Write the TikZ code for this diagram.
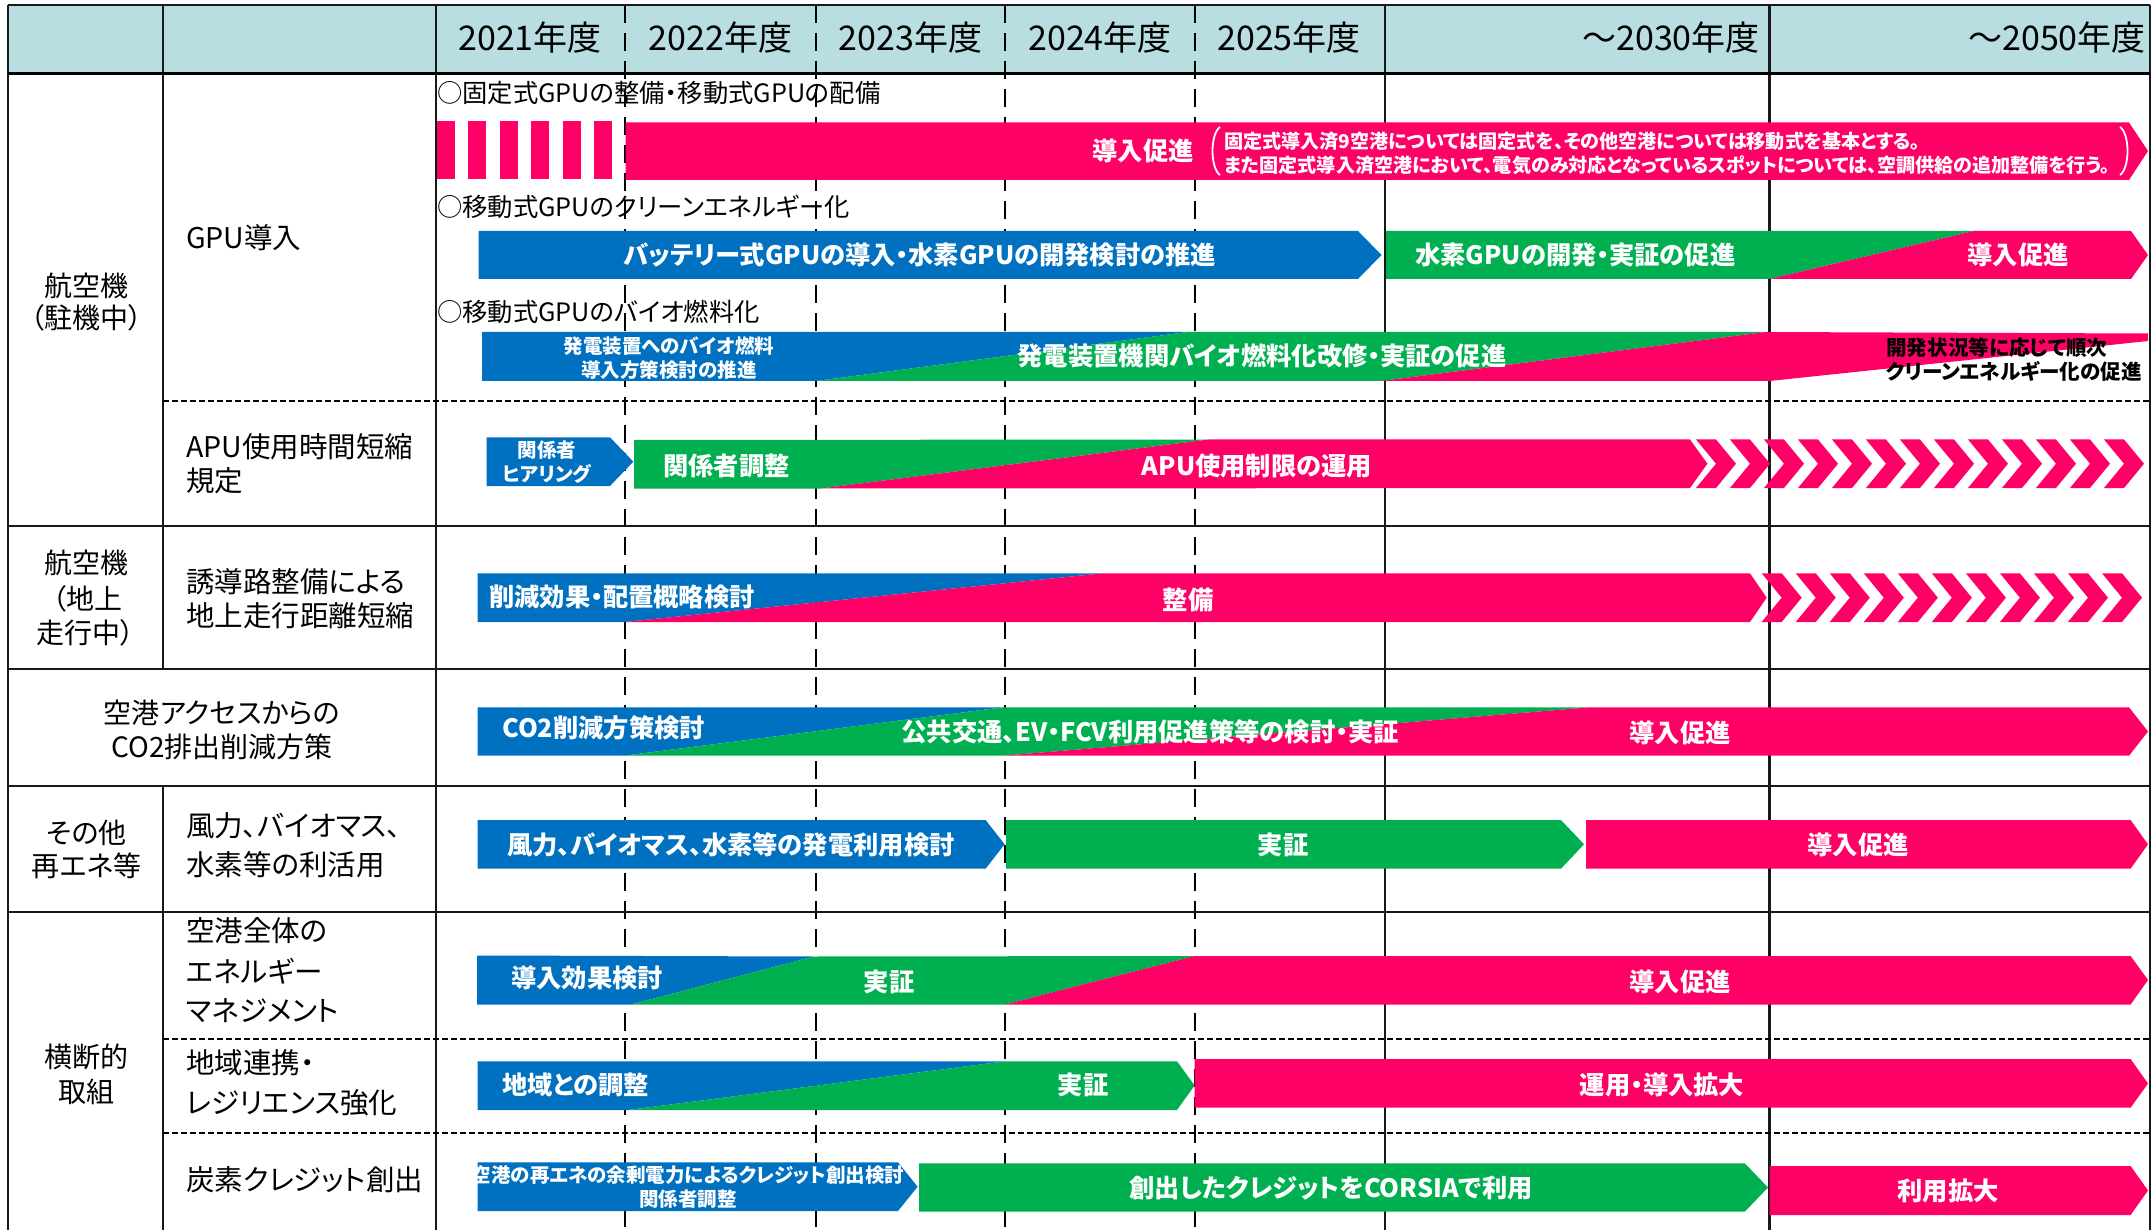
\documentclass[tikz,border=0pt]{standalone}
\usepackage{fontspec}
\setmainfont{Noto Sans CJK JP}[RawFeature=+palt]
\definecolor{pk}{RGB}{255,0,102}
\definecolor{bl}{RGB}{0,112,192}
\definecolor{gr}{RGB}{0,176,80}
\definecolor{hd}{RGB}{184,222,226}
\begin{document}
\begin{tikzpicture}[x=1pt,y=-1pt,
 lw/.style={line width=2.2pt,black!90},
 dv/.style={line width=2pt,black,dash pattern=on 18pt off 10pt},
 dh/.style={line width=2.2pt,black,dash pattern=on 6pt off 3pt},
 hdr/.style={font=\fontsize{34}{38}\selectfont,inner sep=0pt},
 cat/.style={font=\fontsize{28}{33}\selectfont,inner sep=0pt},
 lab/.style={font=\fontsize{28.5}{33}\selectfont,inner sep=0pt,anchor=west},
 note/.style={font=\fontsize{25.3}{30}\selectfont,inner sep=0pt,anchor=west},
 bt/.style={text=white,font=\bfseries\fontsize{25.3}{30}\selectfont,inner sep=0pt},
 st/.style={text=white,font=\bfseries\fontsize{19.5}{24}\selectfont,inner sep=0pt,align=center},
 kt/.style={text=black,font=\bfseries\fontsize{20.6}{24}\selectfont,inner sep=0pt,align=left,anchor=west},
 pt/.style={text=white,font=\bfseries\fontsize{19.1}{23.5}\selectfont,inner sep=0pt,align=left,anchor=west},
]
\useasboundingbox (0,0) rectangle (2156,1230);
% header band
\fill[hd] (8,5) rectangle (2150,74);
% grid
\foreach \x in {625,816,1005,1195} \draw[dv] (\x,5) -- (\x,1232);
\foreach \x in {436,1385,1769.5} \draw[lw] (\x,5) -- (\x,1232);
\draw[lw] (163,5) -- (163,669);
\draw[lw] (163,786) -- (163,1232);
\draw[lw] (8,5) -- (8,1232);
\draw[lw] (2150,5) -- (2150,1232);
\draw[lw] (8,5) -- (2150,5);
\draw[line width=3pt] (8,74) -- (2150,74);
\foreach \y in {526,669,786,912} \draw[lw] (8,\y) -- (2150,\y);
\foreach \y in {401,1038.7,1132.7} \draw[dh] (163,\y) -- (2150,\y);

% header texts
\node[hdr] (h1) at (530,38) {2021年度};
\node[hdr] (h2) at (720.5,38) {2022年度};
\node[hdr] (h3) at (910.5,38) {2023年度};
\node[hdr] (h4) at (1100,38) {2024年度};
\node[hdr] (h5) at (1289,38) {2025年度};
\node[hdr,anchor=east] (h6) at (1760,38) {～2030年度};
\node[hdr,anchor=east] (h7) at (2146,38) {～2050年度};

% category column
\node[cat] (c1a) at (86.5,286) {航空機};
\node[cat] (c1b) at (86.5,318) {（駐機中）};
\node[cat] (c2a) at (86.5,563) {航空機};
\node[cat] (c2b) at (87,599) {（地上};
\node[cat] (c2c) at (85,633) {走行中）};
\node[cat] (c3a) at (222,713) {空港アクセスからの};
\node[cat] (c3b) at (222,747) {CO2排出削減方策};
\node[cat] (c4a) at (86.5,833) {その他};
\node[cat] (c4b) at (86.5,866) {再エネ等};
\node[cat] (c5a) at (86.5,1057) {横断的};
\node[cat] (c5b) at (86.5,1092) {取組};

% item labels
\node[lab] (l1) at (186,238) {GPU導入};
\node[lab] (l2a) at (186,447) {APU使用時間短縮};
\node[lab] (l2b) at (186,481) {規定};
\node[lab] (l3a) at (186,582) {誘導路整備による};
\node[lab] (l3b) at (186,616) {地上走行距離短縮};
\node[lab] (l4a) at (186,826) {風力、バイオマス、};
\node[lab] (l4b) at (186,865) {水素等の利活用};
\node[lab] (l5a) at (186,931) {空港全体の};
\node[lab] (l5b) at (186,971) {エネルギー};
\node[lab] (l5c) at (186,1011) {マネジメント};
\node[lab] (l6a) at (186,1063) {地域連携・};
\node[lab] (l6b) at (186,1103) {レジリエンス強化};
\node[lab] (l7) at (186,1180) {炭素クレジット創出};

% ===== GPU row 1 =====
\node[note] (n1) at (437,93) {○固定式GPUの整備・移動式GPUの配備};
\foreach \a/\b in {437/455,468/486,499.5/517.5,531/549,562.5/580.5,594/612}
  \fill[pk] (\a,121) rectangle (\b,179);
\fill[pk] (625.5,122.5) -- (2129,122.5) -- (2148,151) -- (2129,180) -- (625.5,180) -- cycle;
\node[bt] (t1) at (1143,151) {導入促進};
\draw[white,line width=1.8pt] (1220,127) .. controls (1210,134) and (1210,168) .. (1220,175);
\draw[white,line width=1.8pt] (2120,127) .. controls (2130,134) and (2130,168) .. (2120,175);
\node[pt] (p1) at (1224,141.5) {固定式導入済9空港については固定式を、その他空港については移動式を基本とする。};
\node[pt] (p2) at (1224,165) {また固定式導入済空港において、電気のみ対応となっているスポットについては、空調供給の追加整備を行う。};

% ===== GPU row 2 =====
\node[note] (n2) at (437,207) {○移動式GPUのクリーンエネルギー化};
\fill[bl] (478.5,231) -- (1358,231) -- (1381.5,255) -- (1358,279) -- (478.5,279) -- cycle;
\fill[gr] (1386,231) -- (1974,231) -- (1769.5,279) -- (1386,279) -- cycle;
\fill[pk] (1974,231) -- (2131,231) -- (2148,255) -- (2131,279) -- (1769.5,279) -- cycle;
\node[bt] (t2) at (920,255) {バッテリー式GPUの導入・水素GPUの開発検討の推進};
\node[bt,anchor=west] (t3) at (1415,255) {水素GPUの開発・実証の促進};
\node[bt] (t4) at (2018,255) {導入促進};

% ===== GPU row 3 =====
\node[note] (n3) at (437,312) {○移動式GPUのバイオ燃料化};
\fill[bl] (482,332) -- (1188,332) -- (816,381) -- (482,381) -- cycle;
\fill[gr] (1188,332) -- (1766,332) -- (1381,381) -- (816,381) -- cycle;
\fill[pk] (1766,332) -- (2148,333.5) -- (2148,341) -- (1769.5,381) -- (1381,381) -- cycle;
\node[st] (t5) at (669,358) {発電装置へのバイオ燃料\\導入方策検討の推進};
\node[bt] (t6) at (1262,356) {発電装置機関バイオ燃料化改修・実証の促進};
\node[kt] (t7) at (1886,360) {開発状況等に応じて順次\\クリーンエネルギー化の促進};

% ===== APU row =====
\fill[bl] (486.5,437.3) -- (610,437.3) -- (633.3,461.7) -- (610,486) -- (486.5,486) -- cycle;
\fill[gr] (634,440) -- (1208.7,439.5) -- (820.8,488.5) -- (634,488.5) -- cycle;
\fill[pk] (1208.7,439.5) -- (1690,439.5) -- (1707.4,463.7) -- (1690,488) -- (820.8,488.5) -- cycle;
\foreach \i in {0,...,12} {
  \pgfmathsetmacro\xa{1696+34*\i}
  \fill[pk] (\xa,439.5) -- (\xa+20,439.5) -- (\xa+40,463.7) -- (\xa+20,488) -- (\xa,488) -- (\xa+20,463.7) -- cycle;
}
\node[st] (t8) at (547,462) {関係者\\ヒアリング};
\node[bt,anchor=west] (t9) at (663,466) {関係者調整};
\node[bt] (t10) at (1257,466) {APU使用制限の運用};

% ===== Taxiway row =====
\fill[bl] (477.7,573.3) -- (1103,573.3) -- (624.3,622) -- (477.7,622) -- cycle;
\fill[pk] (1103,573.3) -- (1750,573.3) -- (1766.7,597.7) -- (1750,622) -- (624.3,622) -- cycle;
\foreach \i in {0,...,10} {
  \pgfmathsetmacro\xa{1761.7+34.03*\i}
  \fill[pk] (\xa,573.3) -- (\xa+20,573.3) -- (\xa+40,597.7) -- (\xa+20,622) -- (\xa,622) -- (\xa+20,597.7) -- cycle;
}
\node[bt,anchor=west] (t11) at (489,597) {削減効果・配置概略検討};
\node[bt] (t12) at (1188,600) {整備};

% ===== CO2 row =====
\fill[bl] (477.7,707.3) -- (1003,707.3) -- (624,755.7) -- (477.7,755.7) -- cycle;
\fill[gr] (1003,707.3) -- (1590,707.3) -- (1003,755.7) -- (624,755.7) -- cycle;
\fill[pk] (1590,707.3) -- (2129,707.3) -- (2148,731.5) -- (2129,755.7) -- (1003,755.7) -- cycle;
\node[bt,anchor=west] (t13) at (502,728) {CO2削減方策検討};
\node[bt] (t14) at (1150,732) {公共交通、EV・FCV利用促進策等の検討・実証};
\node[bt] (t15) at (1680,733) {導入促進};

% ===== Renewables row =====
\fill[bl] (477.7,820) -- (985.6,820) -- (1004.6,844.3) -- (985.6,868.7) -- (477.7,868.7) -- cycle;
\fill[gr] (1006,820) -- (1561,820) -- (1584,844.3) -- (1561,868.7) -- (1006,868.7) -- cycle;
\fill[pk] (1586,820) -- (2130.6,820) -- (2148,844.3) -- (2130.6,868.7) -- (1586,868.7) -- cycle;
\node[bt] (t16) at (731,845) {風力、バイオマス、水素等の発電利用検討};
\node[bt] (t17) at (1283,845) {実証};
\node[bt] (t18) at (1858,845) {導入促進};

% ===== Energy management row =====
\fill[bl] (477,955.5) -- (813.8,956.5) -- (631,1004.5) -- (477,1004.5) -- cycle;
\fill[gr] (813.8,956.5) -- (1194.6,956) -- (1005,1004.5) -- (631,1004.5) -- cycle;
\fill[pk] (1194.6,956) -- (2130.6,956) -- (2148,980) -- (2130.6,1004.5) -- (1005,1004.5) -- cycle;
\node[bt,anchor=west] (t19) at (511,978) {導入効果検討};
\node[bt] (t20) at (889,982) {実証};
\node[bt] (t21) at (1680,982) {導入促進};

% ===== Regional row =====
\fill[bl] (477.7,1061.3) -- (1005,1061.3) -- (628,1110) -- (477.7,1110) -- cycle;
\fill[gr] (1005,1061.3) -- (1177,1061.3) -- (1194.6,1085.5) -- (1177,1110) -- (628,1110) -- cycle;
\fill[pk] (1194.6,1059) -- (2130.6,1059) -- (2148,1083.5) -- (2130.6,1107.7) -- (1194.6,1107.7) -- cycle;
\node[bt,anchor=west] (t22) at (502,1085) {地域との調整};
\node[bt] (t23) at (1083,1085) {実証};
\node[bt] (t24) at (1662,1085) {運用・導入拡大};

% ===== Carbon credit row =====
\fill[bl] (477.7,1162.3) -- (898,1162.3) -- (917.6,1186.7) -- (898,1211) -- (477.7,1211) -- cycle;
\fill[gr] (919,1163.3) -- (1744.8,1163.3) -- (1768,1187.5) -- (1744.8,1211.7) -- (919,1211.7) -- cycle;
\fill[pk] (1769.5,1166) -- (2130.6,1166) -- (2148,1190.5) -- (2130.6,1215) -- (1769.5,1215) -- cycle;
\node[st] (t25) at (688,1187) {空港の再エネの余剰電力によるクレジット創出検討\\関係者調整};
\node[bt] (t26) at (1331,1188) {創出したクレジットをCORSIAで利用};
\node[bt] (t27) at (1948,1191) {利用拡大};
\end{tikzpicture}
\end{document}
